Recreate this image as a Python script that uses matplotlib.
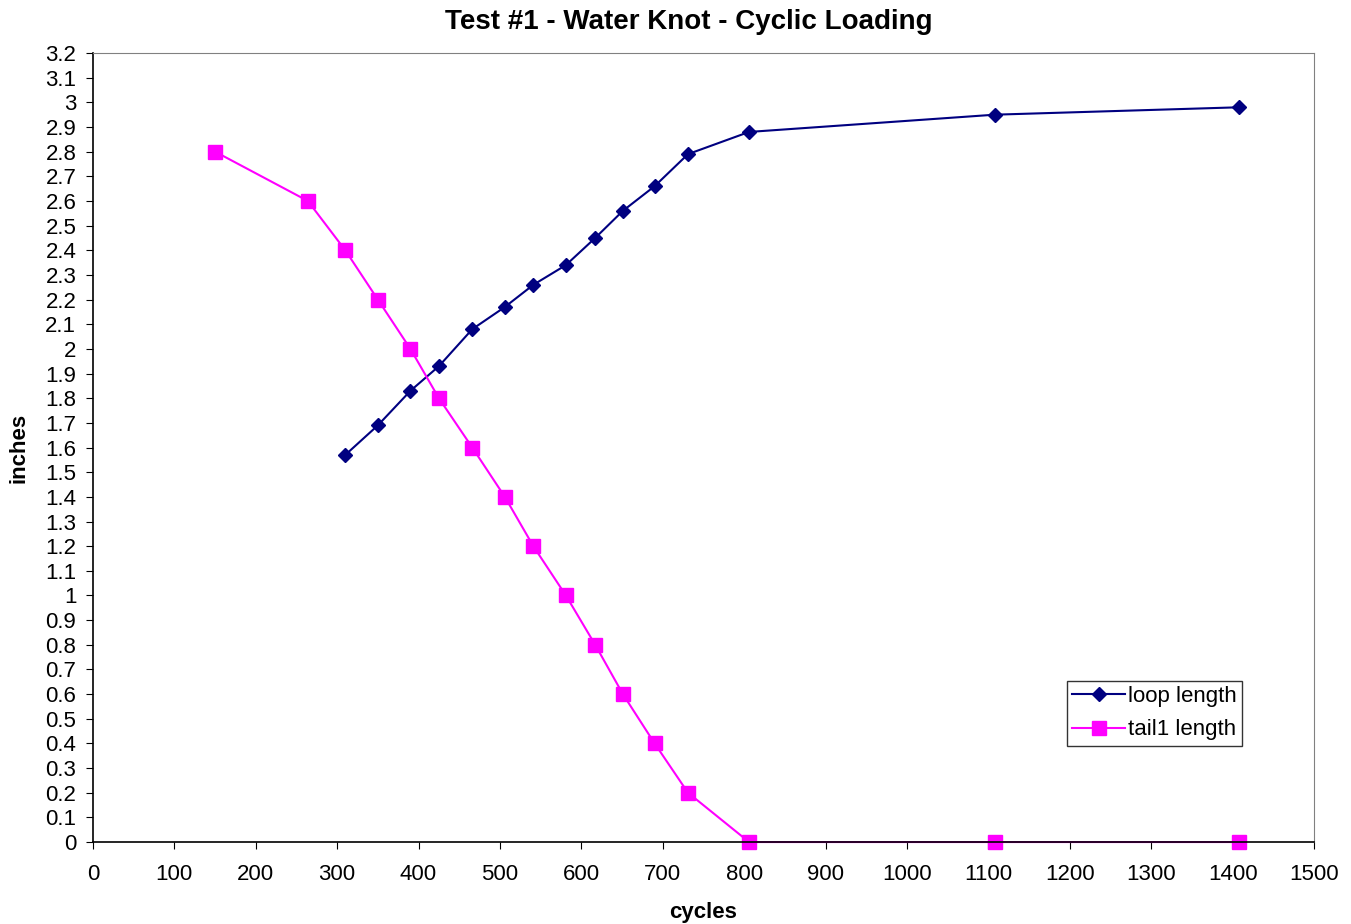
import matplotlib
matplotlib.use("Agg")
import matplotlib.pyplot as plt
from matplotlib.ticker import MultipleLocator

plt.rcParams["font.family"] = ["Liberation Sans", "DejaVu Sans"]

# ── Data ──────────────────────────────────────────────────────────────────────
loop_cycles = [310, 350, 390, 425, 466, 506, 541, 581, 617, 651, 690, 731, 806, 1108, 1408]
loop_length = [1.57, 1.69, 1.83, 1.93, 2.08, 2.17, 2.26, 2.34, 2.45, 2.56, 2.66, 2.79, 2.88, 2.95, 2.98]

tail_cycles = [150, 264, 310, 350, 390, 425, 466, 506, 541, 581, 617, 651, 690, 731, 806, 1108, 1408]
tail_length = [2.8, 2.6, 2.4, 2.2, 2.0, 1.8, 1.6, 1.4, 1.2, 1.0, 0.8, 0.6, 0.4, 0.2, 0, 0, 0]

fig = plt.figure(figsize=(13.51, 9.24), dpi=100)
ax = fig.add_axes([0.0688, 0.0887, 0.9038, 0.8539])

ax.plot(loop_cycles, loop_length, color="#000080", marker="D", markersize=7,
        linewidth=1.5, label="loop length", clip_on=False)
ax.plot(tail_cycles, tail_length, color="#ff00ff", marker="s", markersize=10,
        linewidth=1.5, label="tail1 length", clip_on=False)

ax.set_xlim(0, 1500)
ax.set_ylim(0, 3.2)
ax.xaxis.set_major_locator(MultipleLocator(100))
ax.yaxis.set_major_locator(MultipleLocator(0.1))
ax.set_yticklabels([f"{v:g}" for v in ax.get_yticks()])

ax.tick_params(direction="out", length=5, labelsize=16)
ax.tick_params(axis="x", pad=11)
ax.tick_params(axis="y", pad=7)
for s in ["top", "right"]:
    ax.spines[s].set_color("#808080")
    ax.spines[s].set_linewidth(0.8)
for s in ["left", "bottom"]:
    ax.spines[s].set_linewidth(1.2)

fig.text(689 / 1351, 1 - 22 / 924, "Test #1 - Water Knot - Cyclic Loading",
         fontsize=20, fontweight="bold", ha="center", va="center")
ax.set_xlabel("cycles", fontsize=16, fontweight="bold")
ax.xaxis.set_label_coords(0.5, -0.076)
ax.set_ylabel("inches", fontsize=16, fontweight="bold")
ax.yaxis.set_label_coords(-0.052, 0.5)

leg = ax.legend(loc="lower right", bbox_to_anchor=(0.941, 0.1217), borderaxespad=0,
                fontsize=16, frameon=True, fancybox=False, edgecolor="black",
                borderpad=0.25, handlelength=2.4, handletextpad=0.1, labelspacing=0.55)
leg.get_frame().set_linewidth(1.0)

fig.savefig("out.png", dpi=100)
